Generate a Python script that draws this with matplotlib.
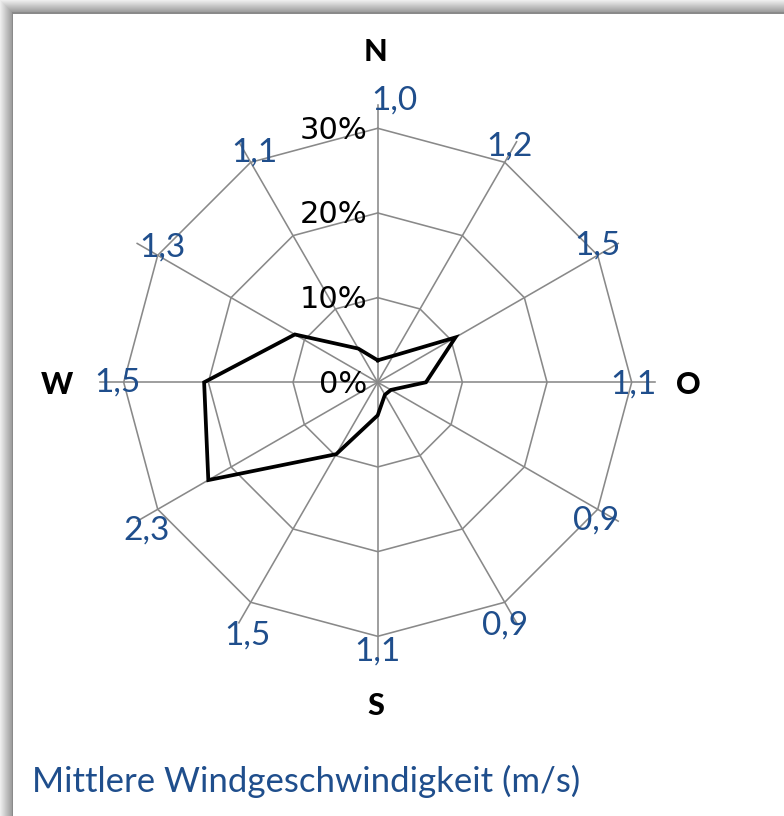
import matplotlib
matplotlib.use('Agg')
import matplotlib.pyplot as plt
import numpy as np
from matplotlib.patches import Rectangle

# wind direction sectors, clockwise from north (degrees)
directions = [0, 30, 60, 90, 120, 150, 180, 210, 240, 270, 300, 330]
# frequency per sector (%)
frequency = [2.6, 3.6, 10.6, 5.7, 1.8, 1.7, 3.9, 9.8, 23.1, 20.5, 11.3, 4.6]
# mean wind speed per sector (m/s), shown at the spoke ends
mean_speed = ['1,0', '1,2', '1,5', '1,1', '0,9', '0,9',
              '1,1', '1,5', '2,3', '1,5', '1,3', '1,1']
rings = [0, 10, 20, 30]
ring_labels = ['0%', '10%', '20%', '30%']
compass = ['N', 'O', 'S', 'W']

W, H = 784, 816
BLUE = '#1f4e8c'
GRID = '#898989'

# pixel nudges for the speed labels (as placed by the original)
label_offsets = [(17, -28), (5, -16), (0, -10), (2, 2), (-2, 11), (0, 23),
                 (0, 15), (-3, 33), (-11, 21), (-6, 0), (5, -8), (4, -10)]
# compass letters: (x, y) in pixels from top-left
compass_pos = [(375, 52), (688, 385), (376, 706), (57, 385)]


def main():
    fig = plt.figure(figsize=(W / 100, H / 100), dpi=100)
    fig.patch.set_facecolor('white')

    # frame with shadow on the left and top
    bg = fig.add_axes([0, 0, 1, 1], zorder=-5)
    bg.set_xlim(0, W)
    bg.set_ylim(H, 0)
    bg.axis('off')
    for i in range(12):
        g = 0.93 - 0.028 * i
        bg.add_patch(Rectangle((i, i), 1, H, color=str(g), lw=0))
        bg.add_patch(Rectangle((i, i), W, 1, color=str(g), lw=0))
    bg.add_patch(Rectangle((12, 12), 1.5, H, color='#8a8a8a', lw=0))
    bg.add_patch(Rectangle((12, 12), W, 1.5, color='#8a8a8a', lw=0))

    cx, cy = 377.7, 382.3
    px_per_pct = 8.467
    rmax = 33.0
    rad = rmax * px_per_pct
    ax = fig.add_axes([(cx - rad) / W, (H - cy - rad) / H, 2 * rad / W, 2 * rad / H],
                      projection='polar')
    ax.set_theta_zero_location('N')
    ax.set_theta_direction(-1)
    ax.set_ylim(0, rmax)
    ax.grid(False)
    ax.set_xticks([])
    ax.set_yticks([])
    ax.spines['polar'].set_visible(False)
    ax.patch.set_alpha(0)

    theta = np.deg2rad(directions)
    closed = np.append(theta, theta[0])

    # polygon rings
    for r in rings[1:]:
        ax.plot(closed, [r] * len(closed), color=GRID, lw=1.15, zorder=1)
    # spokes, a little past the outer ring
    for t in theta:
        ax.plot([t, t], [0, 32.8], color=GRID, lw=1.15, zorder=1)

    # frequency polygon
    ax.plot(closed, np.append(frequency, frequency[0]), color='black', lw=2.7,
            solid_joinstyle='miter', zorder=3)

    # radial scale labels left of the north spoke
    for r, lab in zip(rings, ring_labels):
        ax.annotate(lab, (0, r), xytext=(-10, -2), textcoords='offset pixels',
                    ha='right', va='center', fontsize=22, family='DejaVu Sans',
                    color='black', zorder=4)

    # mean wind speed at each spoke end
    for t, lab, (dx, dy) in zip(theta, mean_speed, label_offsets):
        ax.annotate(lab, (t, 30), xytext=(dx, -dy), textcoords='offset pixels',
                    ha='center', va='center', fontsize=24, family='Lato',
                    color=BLUE, zorder=4)

    for lab, (x, y) in zip(compass, compass_pos):
        fig.text(x / W, 1 - y / H, lab, ha='center', va='center', fontsize=22,
                 family='Lato', fontweight='black', color='black')

    fig.text(32 / W, 1 - 781 / H, 'Mittlere Windgeschwindigkeit (m/s)',
             ha='left', va='center', fontsize=25, family='Lato', color=BLUE)

    fig.savefig('out.png', dpi=100)


if __name__ == '__main__':
    main()
